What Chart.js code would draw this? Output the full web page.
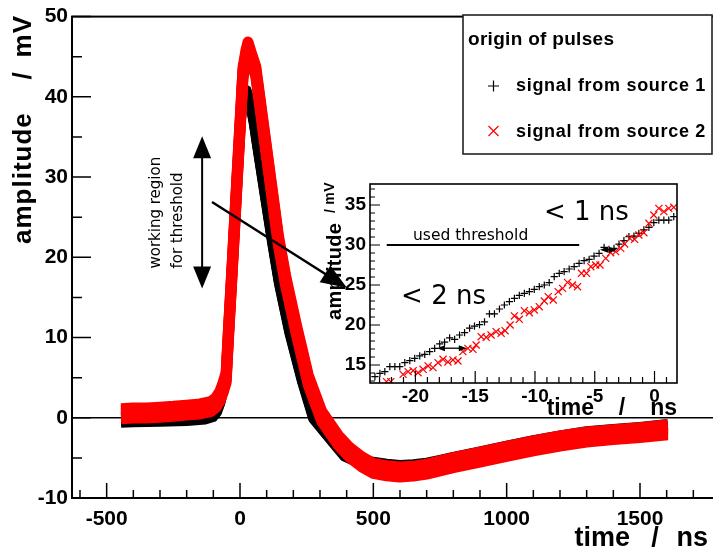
<!DOCTYPE html>
<html><head><meta charset="utf-8">
<script src="https://cdn.jsdelivr.net/npm/chart.js@4"></script>
<style>
html,body{margin:0;padding:0;background:#fff;overflow:hidden;width:713px;height:550px;}
#wrap{position:relative;width:740px;height:550px;}
canvas{position:absolute;left:0;top:0;}
</style></head><body>
<div id="wrap"><canvas id="main" width="740" height="550"></canvas><canvas id="inset" width="740" height="550"></canvas></div>
<script>
// ---------------- data ----------------
const mainXTickValues = [-500, 0, 500, 1000, 1500];
const mainYTickValues = [-10, 0, 10, 20, 30, 40, 50];
const insetXTickValues = [-20, -15, -10, -5, 0];
const insetYTickValues = [15, 20, 25, 30, 35];

const legendTitle = 'origin of pulses';
const seriesNames = ['signal from source 1', 'signal from source 2'];

// source 1 (black) – centre of the band, time in ns, amplitude in mV
const source1Time = [-446,-400,-300,-200,-130,-100,-85,-72,-62,-52,-44,-27,-10.5,6.4,16,26,36,50,61,90,119,144,183.5,232,273,350,390,450,499,550,600,650,700,750,800,900,1000,1100,1200,1300,1400,1500,1604];
const source1Amp  = [-0.3,-0.25,-0.2,-0.1,0.1,0.4,1.0,2.2,3.6,5,10,20,30,38,40.2,40.5,39.5,37,34.5,28.3,22.1,17.1,10.9,4.7,0.2,-2.9,-4.5,-5.4,-5.8,-6.05,-6.2,-6.1,-5.9,-5.55,-5.2,-4.5,-3.8,-3.1,-2.5,-2.0,-1.7,-1.45,-1.1];

// source 2 (red)
const source2Time = [-446,-400,-350,-300,-250,-200,-150,-110,-90,-75,-64,-52,-44,-27,-10.5,6.4,11.2,22.5,30,41,59,84,94,119,144,171,212,256,306,368,412,457,499,550,599,650,700,750,800,900,1000,1100,1200,1300,1400,1500,1604];
const source2Amp  = [0.5,0.6,0.6,0.7,0.8,0.95,1.1,1.4,1.9,2.7,3.7,5,10,20,30,40,43,45.2,46.2,45.0,43.2,37,34.5,28.3,22.1,17.1,10.9,4.7,0.2,-2.8,-4.35,-5.5,-6.3,-6.6,-6.75,-6.65,-6.4,-6.0,-5.6,-4.9,-4.2,-3.5,-2.9,-2.4,-2.1,-1.85,-1.5];

// inset (zoom on rising edge)
const insetSource1Time = [-23.39,-22.97,-22.56,-22.14,-21.72,-21.31,-20.89,-20.47,-20.06,-19.64,-19.22,-18.81,-18.39,-17.97,-17.56,-17.14,-16.72,-16.31,-15.89,-15.47,-15.06,-14.64,-14.22,-13.81,-13.39,-12.97,-12.56,-12.14,-11.72,-11.31,-10.89,-10.47,-10.06,-9.64,-9.22,-8.81,-8.39,-7.97,-7.56,-7.14,-6.72,-6.31,-5.89,-5.47,-5.06,-4.64,-4.22,-3.81,-3.39,-2.97,-2.56,-2.14,-1.72,-1.31,-0.89,-0.47,-0.06,0.36,0.78,1.19,1.61];
const insetSource1Amp  = [13.54,13.96,14.17,14.79,14.79,14.79,15.29,15.54,15.83,16.13,16.33,16.67,17.08,17.63,17.85,18.40,18.20,18.75,19.04,19.60,19.85,20.05,20.40,21.38,21.38,22.0,22.5,22.92,23.33,23.70,23.96,24.17,24.46,24.79,25.0,25.29,26.04,26.46,26.67,27.0,27.29,27.71,28.04,28.21,28.62,28.96,29.71,29.46,29.58,30.12,30.54,31.04,31.12,31.46,31.88,32.21,32.79,33.12,33.12,33.12,33.54];
const insetSource2Time = [-22.42,-22.06,-21.03,-20.61,-20.19,-19.78,-19.36,-18.94,-18.53,-18.11,-17.69,-17.28,-16.86,-16.44,-16.03,-15.61,-15.19,-14.92,-14.5,-14.08,-13.67,-13.25,-12.83,-12.5,-12.08,-11.72,-11.31,-10.89,-10.47,-10.06,-9.64,-9.22,-8.89,-8.47,-8.06,-7.69,-7.28,-6.86,-6.44,-6.11,-5.69,-5.33,-4.92,-4.56,-4.08,-3.67,-3.25,-2.83,-2.5,-2.06,-1.67,-1.31,-0.89,-0.47,-0.06,0.36,0.78,1.19,1.61];
const insetSource2Amp  = [12.92,12.92,13.83,14.17,14.29,14.04,14.46,14.88,14.67,15.29,15.71,15.38,15.63,15.5,16.67,17.08,16.96,17.5,18.54,18.46,18.75,19.17,18.96,19.29,20.0,21.13,20.71,21.79,21.54,21.88,22.29,23.0,23.54,23.13,24.17,24.58,25.33,25.0,24.79,26.46,26.46,27.29,27.5,27.5,28.33,29.04,29.17,29.58,30.13,30.83,30.71,31.25,31.54,32.71,33.75,34.58,34.17,34.58,34.71];

// annotations (main chart coordinates: ns / mV, inset coordinates: ns / mV)
const thresholdValue = 30;
const thresholdSpan = [-22.4, -6.3];
const insetArrows = [{t1:-18.2, t2:-15.7, a:17.1}, {t1:-4.56, t2:-3.14, a:29.4}];
const workingArrow = {t:-142, a1:35.1, a2:16.1};
const pointerArrow = {t1:-105, a1:26.9, t2:401, a2:16.2};

// ---------------- helpers ----------------
const toXY = (ts, as) => ts.map((t, i) => ({x: t, y: as[i]}));
const BOLD = '"Liberation Sans", Arial, Helvetica, sans-serif';
const THIN = '"DejaVu Sans", Verdana, sans-serif';

function arrowHead(ctx, x1, y1, x2, y2, len, wid) {
  const ang = Math.atan2(y2 - y1, x2 - x1);
  const c = Math.cos(ang), s = Math.sin(ang);
  ctx.beginPath();
  ctx.moveTo(x2, y2);
  ctx.lineTo(x2 - len * c + wid / 2 * s, y2 - len * s - wid / 2 * c);
  ctx.lineTo(x2 - len * c - wid / 2 * s, y2 - len * s + wid / 2 * c);
  ctx.closePath();
  ctx.fill();
}
function shaft(ctx, x1, y1, x2, y2, lw) {
  ctx.lineWidth = lw;
  ctx.beginPath(); ctx.moveTo(x1, y1); ctx.lineTo(x2, y2); ctx.stroke();
}
function rotText(ctx, txt, x, y, font, align, spacing) {
  ctx.save();
  ctx.translate(x, y); ctx.rotate(-Math.PI / 2);
  ctx.font = font; ctx.textAlign = align; ctx.textBaseline = 'alphabetic';
  if ('letterSpacing' in ctx) ctx.letterSpacing = spacing || '0px';
  ctx.fillText(txt, 0, 0);
  ctx.restore();
}

const bandPlugin = {
  id: 'band',
  beforeDatasetDraw(chart, args) {
    const ds = chart.data.datasets[args.index];
    if (!ds.bandOffsets) return;
    const ctx = chart.ctx, ca = chart.chartArea;
    ctx.save();
    ctx.beginPath(); ctx.rect(ca.left, ca.top, ca.width, ca.height); ctx.clip();
    for (const off of ds.bandOffsets) {
      ctx.save(); ctx.translate(0, off); args.meta.dataset.draw(ctx, ca); ctx.restore();
    }
    ctx.restore();
  }
};

const mainDecor = {
  id: 'mainDecor',
  beforeDatasetsDraw(chart) {
    const {ctx, chartArea: ca, scales: {y}} = chart;
    ctx.save();
    ctx.strokeStyle = '#000'; ctx.lineWidth = 1.5;
    const py = y.getPixelForValue(0);
    ctx.beginPath(); ctx.moveTo(ca.left, py); ctx.lineTo(ca.right, py); ctx.stroke();
    ctx.restore();
  },
  afterDatasetsDraw(chart) {
    const {ctx, chartArea: ca, scales: {x, y}} = chart;
    ctx.save();
    ctx.strokeStyle = '#000'; ctx.lineWidth = 1.5;
    ctx.beginPath();
    for (let v = -600; v <= 1800; v += 100) {
      const px = x.getPixelForValue(v);
      if (px <= ca.left + 1 || px > ca.right) continue;
      const len = v % 500 === 0 ? 15 : 8;
      ctx.moveTo(px, ca.bottom); ctx.lineTo(px, ca.bottom - len);
    }
    for (let v = -10; v <= 50; v += 5) {
      const py = y.getPixelForValue(v);
      const len = v % 10 === 0 ? 19 : 10;
      ctx.moveTo(ca.left, py); ctx.lineTo(ca.left + len, py);
    }
    ctx.stroke();
    ctx.lineWidth = 2;
    ctx.strokeRect(ca.left, ca.top, ca.width, ca.height);
    ctx.restore();
  },
  afterDraw(chart) {
    const {ctx, scales: {x, y}} = chart;
    ctx.save();
    ctx.fillStyle = '#000'; ctx.strokeStyle = '#000';
    // axis titles
    ctx.font = 'bold 27px ' + BOLD; ctx.textBaseline = 'alphabetic';
    ctx.textAlign = 'right'; ctx.fillText('ns', 708, 546);
    ctx.textAlign = 'center'; ctx.fillText('/', 655, 546);
    ctx.textAlign = 'right'; ctx.fillText('time', 630, 546);
    rotText(ctx, 'amplitude', 31, 244, 'bold 26px ' + BOLD, 'left', '1px');
    rotText(ctx, '/', 31, 76, 'bold 26px ' + BOLD, 'center', '0px');
    rotText(ctx, 'mV', 31, 15, 'bold 26px ' + BOLD, 'right', '1px');

    // legend box
    ctx.fillStyle = '#fff';
    ctx.fillRect(463, 15, 249, 139);
    ctx.lineWidth = 1.6; ctx.strokeStyle = '#222';
    ctx.strokeRect(463, 15, 249, 139);
    ctx.fillStyle = '#000'; ctx.textAlign = 'left';
    if ('letterSpacing' in ctx) ctx.letterSpacing = '0.3px';
    ctx.font = 'bold 19px ' + BOLD;
    ctx.fillText(legendTitle, 468, 45);
    if ('letterSpacing' in ctx) ctx.letterSpacing = '0.7px';
    ctx.font = 'bold 18px ' + BOLD;
    ctx.fillText(seriesNames[0], 516, 91);
    ctx.fillText(seriesNames[1], 516, 136.5);
    if ('letterSpacing' in ctx) ctx.letterSpacing = '0px';
    ctx.lineWidth = 1.2; ctx.strokeStyle = '#000';
    ctx.beginPath();
    ctx.moveTo(488, 86); ctx.lineTo(499, 86); ctx.moveTo(493.5, 80.5); ctx.lineTo(493.5, 91.5);
    ctx.stroke();
    ctx.strokeStyle = '#ff0000';
    ctx.beginPath();
    ctx.moveTo(488.5, 126); ctx.lineTo(498.5, 136); ctx.moveTo(498.5, 126); ctx.lineTo(488.5, 136);
    ctx.stroke();

    // working region arrow + text
    ctx.strokeStyle = '#000'; ctx.fillStyle = '#000';
    const ax = x.getPixelForValue(workingArrow.t);
    const ay1 = y.getPixelForValue(workingArrow.a1), ay2 = y.getPixelForValue(workingArrow.a2);
    shaft(ctx, ax, ay1 + 15, ax, ay2 - 15, 2);
    arrowHead(ctx, ax, ay2, ax, ay1, 22, 18);
    arrowHead(ctx, ax, ay1, ax, ay2, 22, 18);
    rotText(ctx, 'working region', x.getPixelForValue(-300), y.getPixelForValue(18.6), '15px ' + THIN, 'left', '0px');
    rotText(ctx, 'for threshold', x.getPixelForValue(-217.5), y.getPixelForValue(18.6), '15px ' + THIN, 'left', '0px');
    ctx.restore();
  }
};

const mainChart = new Chart(document.getElementById('main'), {
  type: 'scatter',
  data: {
    datasets: [
      {label: seriesNames[1], data: toXY(source2Time, source2Amp), showLine: true, borderColor: '#ff0000',
       backgroundColor: '#ff0000', borderWidth: 11, pointRadius: 0, borderJoinStyle: 'round', borderCapStyle: 'butt',
       tension: 0, order: 0, bandOffsets: [-5, -2.5, 2.5, 5]},
      {label: seriesNames[0], data: toXY(source1Time, source1Amp), showLine: true, borderColor: '#000000',
       backgroundColor: '#000000', borderWidth: 9, pointRadius: 0, borderJoinStyle: 'round', borderCapStyle: 'butt',
       tension: 0, order: 1, bandOffsets: [-3, -1.5, 1.5, 3]}
    ]
  },
  options: {
    responsive: false, animation: false, events: [],
    layout: {autoPadding: false, padding: {top: 15, left: 0, right: 20, bottom: 0}},
    plugins: {legend: {display: false}, tooltip: {enabled: false}},
    scales: {
      x: {type: 'linear', min: -630, max: 1800,
          afterFit: s => { s.height = 52; },
          afterBuildTicks: s => { s.ticks = mainXTickValues.map(v => ({value: v})); },
          grid: {display: false, drawTicks: false}, border: {display: false},
          ticks: {color: '#000', font: {family: BOLD, size: 21, weight: 'bold'}, padding: 9,
                  autoSkip: false, maxRotation: 0, minRotation: 0, callback: v => String(v)}},
      y: {type: 'linear', min: -10, max: 50,
          afterFit: s => { s.width = 72; },
          afterBuildTicks: s => { s.ticks = mainYTickValues.map(v => ({value: v})); },
          grid: {display: false, drawTicks: false}, border: {display: false},
          ticks: {color: '#000', font: {family: BOLD, size: 21, weight: 'bold'}, padding: 4,
                  autoSkip: false, callback: v => String(v)}}
    }
  },
  plugins: [bandPlugin, mainDecor]
});

const insetDecor = {
  id: 'insetDecor',
  beforeDatasetsDraw(chart) {
    const {ctx, chartArea: ca} = chart;
    ctx.save(); ctx.fillStyle = '#fff';
    ctx.fillRect(ca.left, ca.top, ca.width, ca.height);
    ctx.restore();
  },
  afterDatasetsDraw(chart) {
    const {ctx, chartArea: ca, scales: {x, y}} = chart;
    ctx.save();
    ctx.strokeStyle = '#000'; ctx.lineWidth = 1.2;
    ctx.beginPath();
    for (let v = -23; v <= 1; v += 1) {
      const px = x.getPixelForValue(v);
      const len = v % 5 === 0 ? 12 : 6;
      ctx.moveTo(px, ca.bottom); ctx.lineTo(px, ca.bottom - len);
    }
    for (let v = 13; v <= 37; v += 1) {
      const py = y.getPixelForValue(v);
      const len = v % 5 === 0 ? 10 : 5;
      ctx.moveTo(ca.left, py); ctx.lineTo(ca.left + len, py);
    }
    ctx.stroke();
    ctx.lineWidth = 1.6;
    ctx.strokeRect(ca.left, ca.top, ca.width, ca.height);
    // threshold line
    ctx.lineWidth = 1.8;
    const ty = y.getPixelForValue(thresholdValue);
    ctx.beginPath(); ctx.moveTo(x.getPixelForValue(thresholdSpan[0]), ty); ctx.lineTo(x.getPixelForValue(thresholdSpan[1]), ty); ctx.stroke();
    // small double arrows
    ctx.fillStyle = '#000';
    for (const ar of insetArrows) {
      const x1 = x.getPixelForValue(ar.t1), x2 = x.getPixelForValue(ar.t2), py = y.getPixelForValue(ar.a);
      shaft(ctx, x1 + 4, py, x2 - 4, py, 1.3);
      arrowHead(ctx, x2, py, x1, py, 8, 6);
      arrowHead(ctx, x1, py, x2, py, 8, 6);
    }
    // texts
    ctx.fillStyle = '#000'; ctx.textAlign = 'left'; ctx.textBaseline = 'alphabetic';
    ctx.font = '15.5px ' + THIN;
    ctx.fillText('used threshold', x.getPixelForValue(-20.2), y.getPixelForValue(30.6));
    ctx.font = '26px ' + THIN;
    ctx.fillText('< 1 ns', x.getPixelForValue(-9.25), y.getPixelForValue(33.1));
    ctx.fillText('< 2 ns', x.getPixelForValue(-21.2), y.getPixelForValue(22.6));
    ctx.restore();
  },
  afterDraw(chart) {
    const {ctx, chartArea: ca} = chart;
    ctx.save();
    ctx.fillStyle = '#000'; ctx.strokeStyle = '#000';
    // inset titles
    ctx.font = 'bold 23px ' + BOLD; ctx.textBaseline = 'alphabetic';
    ctx.textAlign = 'right'; ctx.fillText('ns', ca.right, 415);
    ctx.textAlign = 'center'; ctx.fillText('/', 622, 415);
    ctx.textAlign = 'right'; ctx.fillText('time', 594, 415);
    rotText(ctx, 'amplitude', 341, 320, 'bold 20px ' + BOLD, 'left', '0.3px');
    rotText(ctx, '/', 335, 211, 'bold 14px ' + BOLD, 'center', '0px');
    rotText(ctx, 'mV', 334, 182, 'bold 14px ' + BOLD, 'right', '0.5px');
    // pointer arrow from main chart to the inset
    const mx = mainChart.scales.x, my = mainChart.scales.y;
    const x1 = mx.getPixelForValue(pointerArrow.t1), y1 = my.getPixelForValue(pointerArrow.a1);
    const x2 = mx.getPixelForValue(pointerArrow.t2), y2 = my.getPixelForValue(pointerArrow.a2);
    const ang = Math.atan2(y2 - y1, x2 - x1);
    shaft(ctx, x1, y1, x2 - 20 * Math.cos(ang), y2 - 20 * Math.sin(ang), 2.5);
    arrowHead(ctx, x1, y1, x2, y2, 26, 20);
    ctx.restore();
  }
};

const insetChart = new Chart(document.getElementById('inset'), {
  type: 'scatter',
  data: {
    datasets: [
      {label: seriesNames[1], data: toXY(insetSource2Time, insetSource2Amp), pointStyle: 'crossRot', pointRadius: 5,
       pointBorderWidth: 1.2, borderColor: '#ff0000', backgroundColor: '#ff0000', order: 0},
      {label: seriesNames[0], data: toXY(insetSource1Time, insetSource1Amp), pointStyle: 'cross', pointRadius: 3.6,
       pointBorderWidth: 1.2, borderColor: '#000000', backgroundColor: '#000000', order: 1}
    ]
  },
  options: {
    responsive: false, animation: false, events: [],
    layout: {autoPadding: false, padding: {top: 184, left: 300, right: 63, bottom: 0}},
    plugins: {legend: {display: false}, tooltip: {enabled: false}},
    scales: {
      x: {type: 'linear', min: -23.8, max: 1.88,
          afterFit: s => { s.height = 167; },
          afterBuildTicks: s => { s.ticks = insetXTickValues.map(v => ({value: v})); },
          grid: {display: false, drawTicks: false}, border: {display: false},
          ticks: {color: '#000', font: {family: BOLD, size: 19, weight: 'bold'}, padding: 2,
                  autoSkip: false, maxRotation: 0, minRotation: 0, callback: v => String(v)}},
      y: {type: 'linear', min: 12.75, max: 37.625,
          afterFit: s => { s.width = 70; },
          afterBuildTicks: s => { s.ticks = insetYTickValues.map(v => ({value: v})); },
          grid: {display: false, drawTicks: false}, border: {display: false},
          ticks: {color: '#000', font: {family: BOLD, size: 19, weight: 'bold'}, padding: 4,
                  autoSkip: false, callback: v => String(v)}}
    }
  },
  plugins: [insetDecor]
});
</script>
</body></html>
